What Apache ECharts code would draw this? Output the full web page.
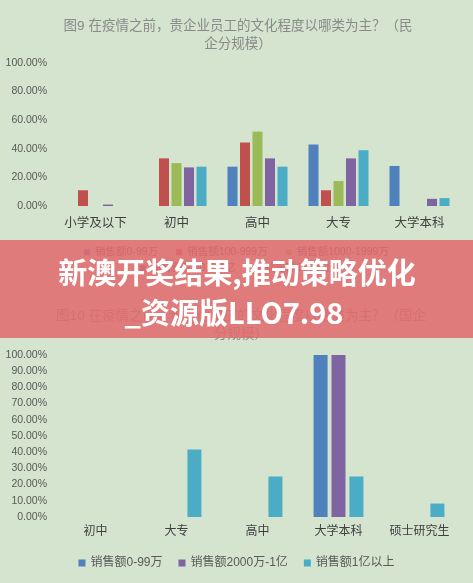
<!DOCTYPE html>
<html><head><meta charset="utf-8">
<script src="https://cdn.jsdelivr.net/npm/echarts@6/dist/echarts.min.js"></script>
<style>html,body{margin:0;padding:0;background:#d4e4cf}#c{width:473px;height:583px}</style>
</head><body><div id="c"></div>
<script>
// Top chart (民企)
const cats1 = ['小学及以下','初中','高中','大专','大学本科'];
const names1 = ['销售额0-99万','销售额100-999万','销售额1000-1999万','销售额2000万-1亿','销售额1亿以上'];
const top_s0 = [null, null, 27.5, 43, 28];
const top_s1 = [11, 33.3, 44.4, 11, null];
const top_s2 = [null, 30, 52, 17.5, null];
const top_s3 = [1, 27, 33.3, 33.3, 5];
const top_s4 = [null, 27.5, 27.5, 39, 5.5];
const colors1 = ['#4f81bd','#c0504d','#9bbb59','#8064a2','#4bacc6'];
// Bottom chart (国企)
const cats2 = ['初中','大专','高中','大学本科','硕士研究生'];
const names2 = ['销售额0-99万','销售额2000万-1亿','销售额1亿以上'];
const bot_s0 = [null, null, null, 100, null];
const bot_s1 = [null, null, null, 100, null];
const bot_s2 = [null, 41.7, 25, 25, 8.3];
const colors2 = ['#4f81bd','#8064a2','#4bacc6'];
const yTicks1 = [0,20,40,60,80,100];
const yTicks2 = [0,10,20,30,40,50,60,70,80,90,100];
const title1 = '图9 在疫情之前，贵企业员工的文化程度以哪类为主？（民\n企分规模）';
const title2 = '图10 在疫情之前，贵企业员工的文化程度以哪类为主？（国企\n分规模）';
const bannerLines = ['新澳开奖结果,推动策略优化','_资源版LLO7.98'];

const FONT = '"Liberation Sans","Noto Sans CJK SC",sans-serif';
const chart = echarts.init(document.getElementById('c'));
const topData = [top_s0, top_s1, top_s2, top_s3, top_s4];
const botData = [bot_s0, bot_s1, bot_s2];

const series = [];
topData.forEach((d, i) => series.push({
  type: 'bar', name: names1[i], data: d, xAxisIndex: 0, yAxisIndex: 0,
  barWidth: 10, barGap: '25%', itemStyle: {color: colors1[i]}
}));
botData.forEach((d, i) => series.push({
  type: 'bar', name: names2[i], data: d, xAxisIndex: 1, yAxisIndex: 1,
  barWidth: 14, barGap: '28%', itemStyle: {color: colors2[i]}
}));

const yAxisCommon = {
  type: 'value', min: 0, max: 100,
  axisLine: {show: false}, axisTick: {show: false}, splitLine: {show: false},
  axisLabel: {formatter: v => v.toFixed(2) + '%', color: '#595959', fontSize: 10.5, margin: 8, fontFamily: FONT}
};
const xAxisCommon = {
  type: 'category', axisLine: {show: false}, axisTick: {show: false},
  axisLabel: {color: '#404040', fontSize: 12.5, fontFamily: FONT, interval: 0}
};

chart.setOption({
  backgroundColor: '#d4e4cf',
  animation: false,
  textStyle: {fontFamily: FONT},
  title: [
    {text: title1, left: 233, top: 12, textAlign: 'center',
     textStyle: {fontSize: 13.5, fontWeight: 'normal', color: '#8a8a8a', lineHeight: 18, align: 'center', fontFamily: FONT}},
    {text: title2, left: 236, top: 302, textAlign: 'center',
     textStyle: {fontSize: 13.5, fontWeight: 'normal', color: '#8a8a8a', lineHeight: 18, align: 'center', fontFamily: FONT}}
  ],
  legend: [
    {data: names1.slice(0, 3), left: 'center', top: 242, itemWidth: 6, itemHeight: 6, itemGap: 18,
     icon: 'rect', textStyle: {fontSize: 10.5, color: '#595959'}},
    {data: names1.slice(3), left: 'center', top: 258, itemWidth: 6, itemHeight: 6, itemGap: 18,
     icon: 'rect', textStyle: {fontSize: 10.5, color: '#595959'}},
    {data: names2, left: 'center', top: 552, itemWidth: 7, itemHeight: 7, itemGap: 16,
     icon: 'rect', textStyle: {fontSize: 12, color: '#595959'}}
  ],
  grid: [
    {left: 55, right: 13, top: 63, height: 143},
    {left: 55, right: 13, top: 355, height: 162}
  ],
  xAxis: [
    Object.assign({}, xAxisCommon, {gridIndex: 0, data: cats1, axisLabel: Object.assign({}, xAxisCommon.axisLabel, {margin: 11})}),
    Object.assign({}, xAxisCommon, {gridIndex: 1, data: cats2, axisLabel: Object.assign({}, xAxisCommon.axisLabel, {fontSize: 12, margin: 9})})
  ],
  yAxis: [
    Object.assign({}, yAxisCommon, {gridIndex: 0, interval: yTicks1[1] - yTicks1[0]}),
    Object.assign({}, yAxisCommon, {gridIndex: 1, interval: yTicks2[1] - yTicks2[0]})
  ],
  series: series,
  graphic: [
    {type: 'rect', z: 100, shape: {x: 0, y: 240, width: 473, height: 98},
     style: {fill: 'rgba(225,107,110,0.87)'}},
    {type: 'text', z: 101, x: 237, y: 273,
     style: {text: bannerLines[0], fill: '#ffffff', font: 'bold 29px "Noto Sans CJK SC", sans-serif',
             align: 'center', verticalAlign: 'middle', textAlign: 'center', textVerticalAlign: 'middle',
             shadowBlur: 3, shadowColor: 'rgba(80,0,0,0.45)', shadowOffsetX: 1, shadowOffsetY: 1}},
    {type: 'text', z: 101, x: 234, y: 313,
     style: {text: bannerLines[1], fill: '#ffffff', font: 'bold 29px "Noto Sans CJK SC", sans-serif',
             align: 'center', verticalAlign: 'middle', textAlign: 'center', textVerticalAlign: 'middle',
             shadowBlur: 3, shadowColor: 'rgba(80,0,0,0.45)', shadowOffsetX: 1, shadowOffsetY: 1}}
  ]
});
</script></body></html>
